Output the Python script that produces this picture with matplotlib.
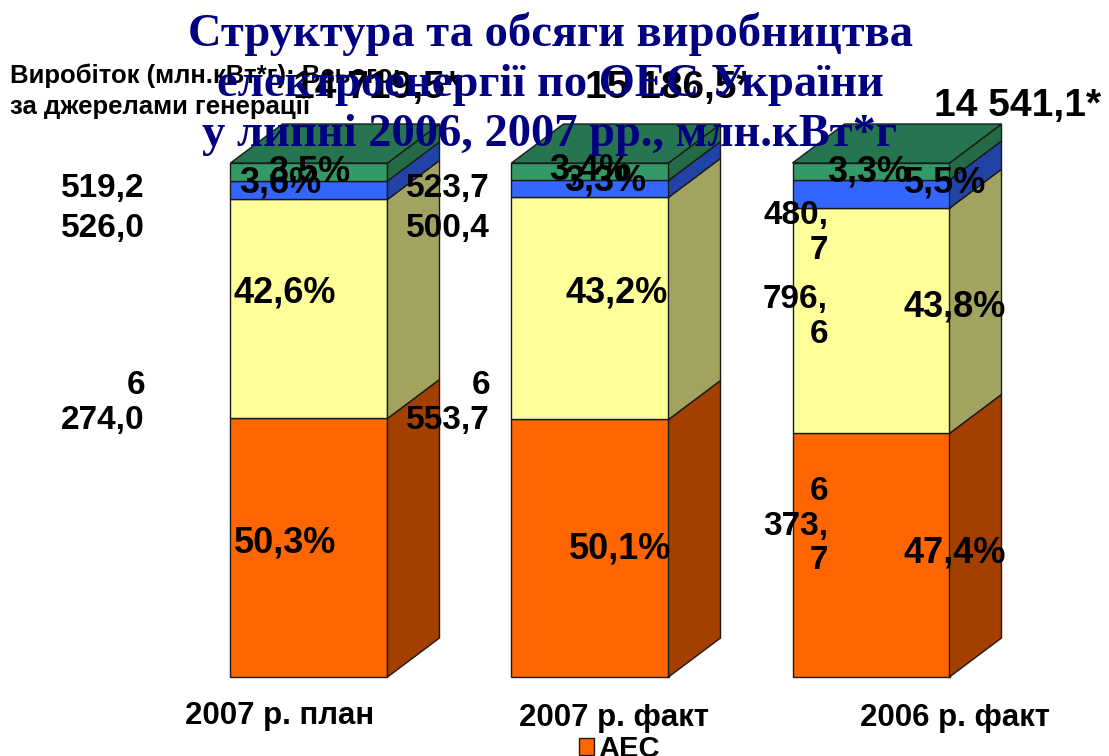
import matplotlib
matplotlib.use('Agg')
import matplotlib.pyplot as plt
from matplotlib.patches import Polygon

# дані
categories = ['2007 р. план', '2007 р. факт', '2006 р. факт']
totals = [14719.5, 15186.5, 14541.1]
aes_pct = [50.3, 50.1, 47.4]
tes_pct = [42.6, 43.2, 43.8]
blue_pct = [3.6, 3.3, 5.5]
green_pct = [3.5, 3.4, 3.3]
green_val = [519.2, 523.7, 480.7]
blue_val = [526.0, 500.4, 796.6]
tes_val = [6274.0, 6553.7, 6373.7]

W, H = 1109, 756
fig = plt.figure(figsize=(W / 100, H / 100), dpi=100)
plt.rcParams['font.family'] = ['Liberation Sans', 'DejaVu Sans']

# вісь на весь рисунок, масштаб підібрано під пікселі оригіналу
ax = fig.add_axes([0, 0, 1, 1])
x0, step = 309, 281
y0, ppu = 677, 5.14
ax.set_xlim(-x0 / step, (W - x0) / step)
ax.set_ylim(-(H - y0) / ppu, y0 / ppu)
ax.axis('off')

width = 157 / step
dx, dy = 52 / step, 39 / ppu

front = ['#FF6600', '#FFFF99', '#3366FF', '#339966']
side = ['#A34000', '#A3A361', '#2243A6', '#246B45']
top_col = '#277550'

series = [aes_pct, tes_pct, blue_pct, green_pct]
xs = list(range(len(categories)))
bottom = [0.0] * len(xs)
bars = []
for vals, fc, sc in zip(series, front, side):
    b = ax.bar(xs, vals, width, bottom=bottom, color=fc, edgecolor='#1a1a1a',
               linewidth=1.0, zorder=2)
    bars.append(b)
    # бічна грань
    for i, v in enumerate(vals):
        xr = xs[i] + width / 2
        y_lo, y_hi = bottom[i], bottom[i] + v
        ax.add_patch(Polygon([(xr, y_lo), (xr + dx, y_lo + dy), (xr + dx, y_hi + dy), (xr, y_hi)],
                             closed=True, facecolor=sc, edgecolor='#1a1a1a', lw=1.0, zorder=2))
    bottom = [b_ + v for b_, v in zip(bottom, vals)]

# верхня грань
for i, t in enumerate(bottom):
    xl, xr = xs[i] - width / 2, xs[i] + width / 2
    ax.add_patch(Polygon([(xl, t), (xl + dx, t + dy), (xr + dx, t + dy), (xr, t)],
                         closed=True, facecolor=top_col, edgecolor='#1a1a1a', lw=1.0, zorder=2))


def px(x, y):
    return x / W, 1 - y / H


def fmt(v):
    return f'{v:,.1f}'.replace(',', ' ').replace('.', ',')


def wrap(s, narrow):
    s = s.replace(' ', '\n')
    if narrow:
        s = s.replace(',', ',\n')
    return s


bold = dict(fontweight='bold', color='black', zorder=5)

# підписи відсотків
blue_pos = [(280, 183), (605, 181), (945, 183)]
green_pos = [(309, 172), (590, 170), (868, 172)]
tes_pos = [(285, 293), (617, 293), (955, 307)]
aes_pos = [(285, 543), (620, 549), (955, 553)]
for vals, pos in [(aes_pct, aes_pos), (tes_pct, tes_pos), (green_pct, green_pos), (blue_pct, blue_pos)]:
    for v, (x, y) in zip(vals, pos):
        fig.text(*px(x, y), f'{v:.1f}%'.replace('.', ','), fontsize=26,
                 ha='center', va='center', **bold)

# значення (млн.кВт*г)
val_right = [145, 490, 828]
narrow = [False, False, True]
green_y = [188, 188, 233]
blue_y = [228, 228, 317]
tes_y = [403, 403, 526]
for i in range(3):
    for vals, ys in [(green_val, green_y), (blue_val, blue_y), (tes_val, tes_y)]:
        fig.text(*px(val_right[i], ys[i]), wrap(fmt(vals[i]), narrow[i]), fontsize=24,
                 ha='right', va='center', multialignment='right', linespacing=1.15, **bold)

# загальні обсяги
tot_pos = [(376, 88), (668, 88), (1018, 106)]
for v, (x, y) in zip(totals, tot_pos):
    fig.text(*px(x, y), fmt(v) + '*', fontsize=28, ha='center', va='center', **bold)

# категорії
cat_pos = [(280, 716), (614, 718), (955, 718)]
for c, (x, y) in zip(categories, cat_pos):
    fig.text(*px(x, y), c, fontsize=22.5, ha='center', va='center', **bold)

fig.text(*px(10, 91), 'Виробіток (млн.кВт*г): Всього:\nза джерелами генерації',
         fontsize=18.5, ha='left', va='center', linespacing=1.35, **bold)

# легенда
leg = fig.legend([bars[0]], ['АЕС'], loc='center left', bbox_to_anchor=px(553, 749),
                 frameon=False, handlelength=0.5, handleheight=0.5, handletextpad=0.15,
                 prop=dict(family='Liberation Sans', weight='bold', size=21))

# заголовок
fig.text(*px(550, 84), 'Структура та обсяги виробництва\nелектроенергії по ОЕС України\nу липні 2006, 2007 рр., млн.кВт*г',
         fontsize=33.5, family='Liberation Serif', fontweight='bold', color='#000080',
         ha='center', va='center', linespacing=1.25, zorder=10)

fig.savefig('out.png', dpi=100)
